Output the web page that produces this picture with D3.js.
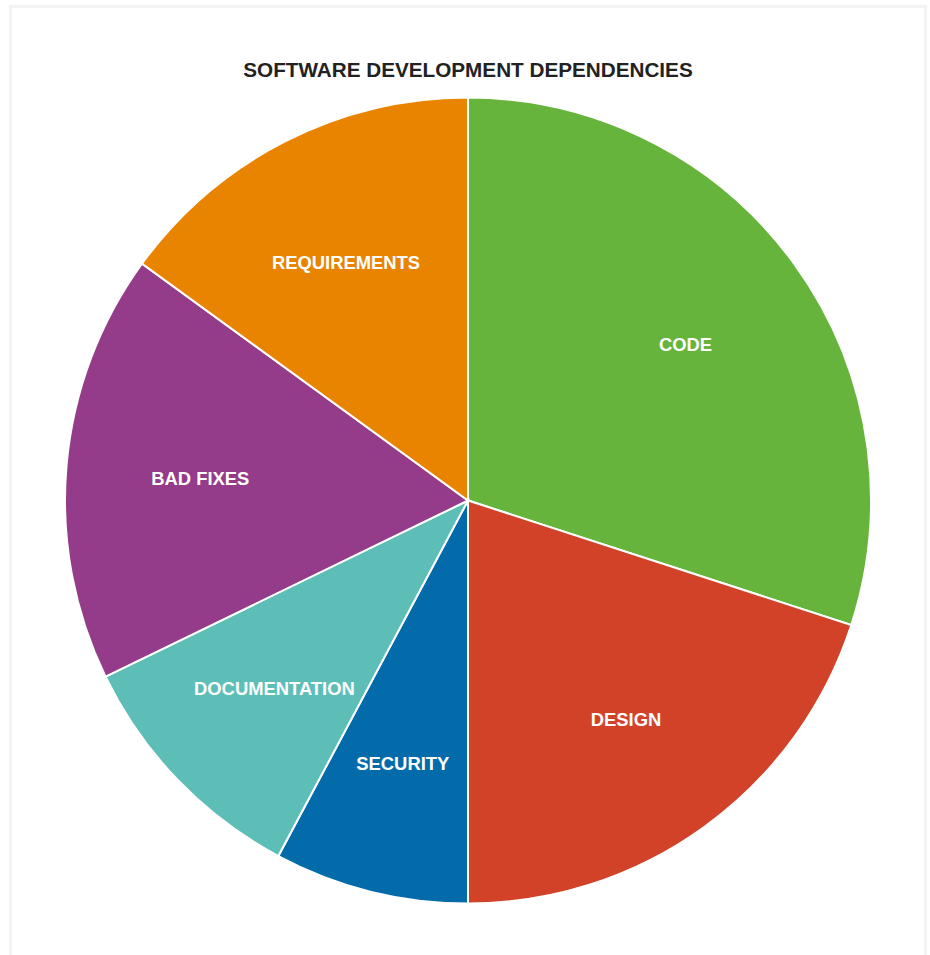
<!DOCTYPE html>
<html>
<head>
<meta charset="utf-8">
<title>Software development dependencies</title>
<script src="https://d3js.org/d3.v7.min.js"></script>
<style>
  body { margin: 0; background: #fff; font-family: "Liberation Sans", Arial, sans-serif; }
  #card { position: absolute; left: 9px; top: 5px; width: 912px; height: 1000px;
          border: 3px solid #f3f3f3; box-sizing: content-box; }
</style>
</head>
<body>
<div id="card"></div>
<script>
// data (percent of total)
var categories = ["CODE", "DESIGN", "SECURITY", "DOCUMENTATION", "BAD FIXES", "REQUIREMENTS"];
var values     = [30, 20, 7.8, 10, 17.2, 15];
var colors     = ["#66b43b", "#d24228", "#046bab", "#5dbeb8", "#943c8a", "#e98400"];

var W = 930, H = 955;
var cx = 468, cy = 500.5, R = 403;

var svg = d3.select("body").append("svg")
  .attr("width", W).attr("height", H)
  .style("position", "absolute").style("left", 0).style("top", 0);

svg.append("text")
  .attr("x", cx).attr("y", 77)
  .attr("text-anchor", "middle")
  .style("font-size", "20.7px").style("font-weight", "bold")
  .style("fill", "#222")
  .text("SOFTWARE DEVELOPMENT DEPENDENCIES");

var rows = categories.map(function(c, i) { return {name: c, value: values[i], color: colors[i]}; });

var pie = d3.pie().sort(null).value(function(d) { return d.value; });
var arc = d3.arc().innerRadius(0).outerRadius(R);
var labelArc = d3.arc().innerRadius(R * 0.667).outerRadius(R * 0.667);

var g = svg.append("g").attr("transform", "translate(" + cx + "," + cy + ")");

var slices = g.selectAll("g.slice").data(pie(rows)).enter().append("g").attr("class", "slice");

slices.append("path")
  .attr("d", arc)
  .attr("fill", function(d) { return d.data.color; })
  .attr("stroke", "#fff")
  .attr("stroke-width", 2);

slices.append("text")
  .attr("transform", function(d) { return "translate(" + labelArc.centroid(d) + ")"; })
  .attr("text-anchor", "middle")
  .attr("dy", "0.45em")
  .style("font-size", "18.4px").style("font-weight", "bold")
  .style("fill", "#fff")
  .text(function(d) { return d.data.name; });
</script>
</body>
</html>
